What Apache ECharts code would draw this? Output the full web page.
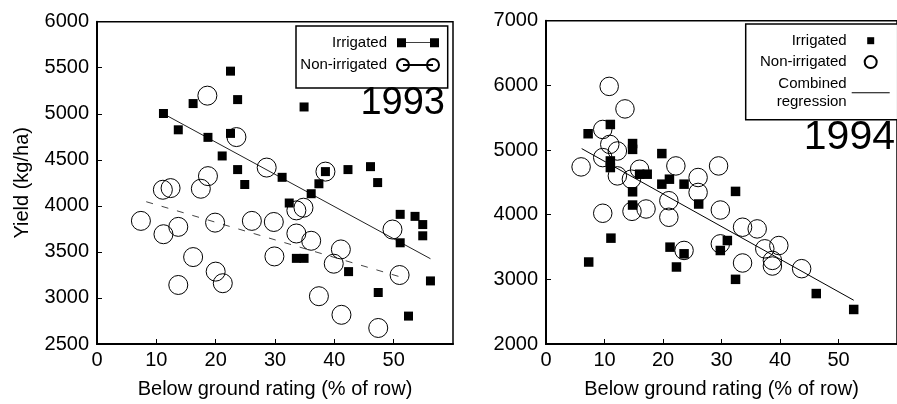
<!DOCTYPE html>
<html>
<head>
<meta charset="utf-8">
<script src="https://cdn.jsdelivr.net/npm/echarts@6/dist/echarts.min.js"></script>
<style>
html,body{margin:0;padding:0;background:#fff;}
#chart{width:897px;height:404px;}
</style>
</head>
<body>
<div id="chart"></div>
<script>
// ---- data ----
const xTicks = [0, 10, 20, 30, 40, 50, 60];
const yTicks93 = [2500, 3000, 3500, 4000, 4500, 5000, 5500, 6000];
const yTicks94 = [2000, 3000, 4000, 5000, 6000, 7000];

const irrigated93 = [[11.2,5003],[13.7,4826],[16.2,5111],[18.7,4744],[21.1,4542],[22.5,5463],[22.5,4787],[23.7,5154],[23.7,4394],[24.9,4232],[31.2,4310],[32.4,4031],[33.6,3430],[34.9,3430],[34.9,5074],[36.1,4132],[37.4,4240],[38.5,4372],[42.3,4394],[42.4,3286],[46.1,4426],[47.3,4253],[47.4,3059],[51.1,3908],[51.1,3599],[53.6,3886],[54.9,3797],[54.9,3675],[52.5,2803],[56.2,3185]];
const nonIrrigated93 = [[7.4,3837],[11.1,4175],[12.4,4193],[11.2,3692],[13.7,3772],[13.7,3141],[16.2,3444],[17.5,4186],[18.7,4323],[18.6,5197],[19.9,3818],[20.0,3286],[21.2,3160],[23.5,4747],[26.1,3837],[28.6,4416],[29.8,3825],[29.9,3451],[33.6,3951],[34.8,3980],[33.6,3700],[36.1,3621],[37.4,3019],[38.5,4372],[39.9,3372],[41.1,3527],[41.2,2817],[47.4,2674],[49.8,3743],[51.0,3249]];
const irrigatedFit93 = [[11.2,5000],[56.2,3426]];
const nonIrrigatedFit93 = [[8.3,4045],[51.1,3229]];

const irrigated94 = [[7.2,5252],[7.3,3268],[11.0,5395],[11.0,4831],[11.0,4729],[11.1,3637],[14.8,5100],[14.8,5010],[14.8,4354],[14.8,4149],[16.0,4626],[17.3,4626],[19.8,4945],[19.8,4472],[21.1,4549],[21.2,3498],[22.3,3191],[23.6,4472],[23.6,3395],[26.1,4165],[29.8,3446],[31.0,3600],[32.4,4360],[32.4,3000],[46.2,2780],[52.6,2534]];
const nonIrrigated94 = [[6.0,4739],[9.7,5318],[9.7,4883],[9.7,4022],[10.8,5984],[10.9,5087],[12.2,4985],[12.2,4600],[13.5,5636],[14.6,4549],[14.7,4052],[16.0,4703],[17.1,4088],[21.0,4216],[21.0,3960],[22.2,4754],[23.6,3447],[26.0,4575],[26.0,4344],[29.5,4754],[29.8,4072],[29.8,3549],[33.6,3806],[33.6,3253],[36.1,3780],[37.4,3472],[39.8,3523],[38.7,3293],[38.7,3206],[43.7,3165]];
const combinedFit94 = [[6.1,5022],[52.6,2677]];

// ---- chart ----
const FONT = '"Liberation Sans", Arial, Helvetica, sans-serif';
const chart = echarts.init(document.getElementById('chart'), null, {renderer: 'canvas'});
const plain = function (v) { return String(v); };

function xAxisCfg(grid) {
  return {
    gridIndex: grid, type: 'value',
    min: xTicks[0], max: xTicks[xTicks.length - 1], interval: xTicks[1] - xTicks[0],
    name: 'Below ground rating (% of row)', nameLocation: 'middle', nameGap: 35,
    nameTextStyle: {color: '#000', fontSize: 20, fontFamily: FONT},
    axisLine: {show: true, lineStyle: {color: '#000', width: 2}},
    axisTick: {show: true, inside: true, length: 5, lineStyle: {color: '#000', width: 1}},
    axisLabel: {color: '#000', fontSize: 20, fontFamily: FONT, margin: 6, showMaxLabel: false, formatter: plain},
    splitLine: {show: false}
  };
}
function yAxisCfg(grid, ticks, name) {
  return {
    gridIndex: grid, type: 'value',
    min: ticks[0], max: ticks[ticks.length - 1], interval: ticks[1] - ticks[0],
    name: name, nameLocation: 'middle', nameGap: 65,
    nameTextStyle: {color: '#000', fontSize: 20, fontFamily: FONT},
    axisLine: {show: true, lineStyle: {color: '#000', width: 2}},
    axisTick: {show: true, inside: true, length: 5, lineStyle: {color: '#000', width: 1}},
    axisLabel: {color: '#000', fontSize: 20, fontFamily: FONT, margin: 8, formatter: plain},
    splitLine: {show: false}
  };
}

const squareStyle = {color: '#000', opacity: 1};
const circleStyle = {color: 'rgba(0,0,0,0)', borderColor: '#000', borderWidth: 1, opacity: 1};

const iconIrr93 = 'path://M0 0L0 0M47 12L47 12M5 1.5h9v9h-9zM38 1.5h9v9h-9zM14 5.6h24v0.8h-24z';
const iconNon93 = 'path://M0 0L0 0M47 12L47 12M5 6a6 6 0 1 0 12 0a6 6 0 1 0 -12 0zM35 6a6 6 0 1 0 12 0a6 6 0 1 0 -12 0zM11 6L41 6';
const iconIrr94 = 'path://M0 0L0 0M38 12L38 12M15.5 2.5h7v7h-7z';
const iconNon94 = 'path://M0 0L0 0M38 12L38 12M13 6a6 6 0 1 0 12 0a6 6 0 1 0 -12 0z';
const iconFit94 = 'path://M0 0L0 0M38 12L38 12M0 5.5h38v1h-38z';

const legendText = {color: '#000', fontSize: 15, fontFamily: FONT, width: 90, lineHeight: 18.4};

const option = {
  animation: false,
  backgroundColor: '#fff',
  grid: [
    {left: 97, top: 21.7, width: 356, height: 324.3, show: true, borderColor: '#000', borderWidth: 1.5, backgroundColor: 'transparent'},
    {left: 546, top: 20.7, width: 357.6, height: 325, show: true, borderColor: '#000', borderWidth: 1.5, backgroundColor: 'transparent'}
  ],
  xAxis: [xAxisCfg(0), xAxisCfg(1)],
  yAxis: [yAxisCfg(0, yTicks93, 'Yield (kg/ha)'), yAxisCfg(1, yTicks94, '')],
  legend: [
    {
      orient: 'vertical', align: 'right', left: 296, top: 26,
      padding: [7.5, 7.7, 13.8, 1], itemGap: 3.9,
      itemWidth: 47, itemHeight: 12,
      borderColor: '#000', borderWidth: 1.5, backgroundColor: '#fff',
      selectedMode: false, textStyle: legendText,
      data: [{name: 'Irrigated', icon: iconIrr93}, {name: 'Non-irrigated', icon: iconNon93}]
    },
    {
      orient: 'vertical', align: 'right', left: 745.7, top: 24,
      padding: [7.5, 7, 8.7, 11], itemGap: 3,
      itemWidth: 38, itemHeight: 12,
      borderColor: '#000', borderWidth: 1.5, backgroundColor: '#fff',
      selectedMode: false, textStyle: legendText,
      formatter: function (n) { return n === 'Combined regression' ? 'Combined\nregression' : n; },
      data: [{name: 'Irrigated', icon: iconIrr94}, {name: 'Non-irrigated', icon: iconNon94}, {name: 'Combined regression', icon: iconFit94}]
    }
  ],
  graphic: [
    {type: 'text', x: 445, y: 104, z: 100,
     style: {text: '1993', fill: '#000', font: '38px ' + FONT, align: 'right', verticalAlign: 'middle'}},
    {type: 'text', x: 895, y: 138, z: 100,
     style: {text: '1994', fill: '#000', font: '41px ' + FONT, align: 'right', verticalAlign: 'middle'}}
  ],
  series: [
    {name: 'Irrigated fit 1993', type: 'line', xAxisIndex: 0, yAxisIndex: 0, data: irrigatedFit93,
     symbol: 'none', silent: true, lineStyle: {color: '#222', width: 1}, z: 1},
    {name: 'Non-irrigated fit 1993', type: 'line', xAxisIndex: 0, yAxisIndex: 0, data: nonIrrigatedFit93,
     symbol: 'none', silent: true, lineStyle: {color: '#444', width: 1, type: [7, 9]}, z: 1},
    {name: 'Irrigated', type: 'scatter', xAxisIndex: 0, yAxisIndex: 0, data: irrigated93,
     symbol: 'rect', symbolSize: 9, itemStyle: squareStyle, silent: true, z: 2},
    {name: 'Non-irrigated', type: 'scatter', xAxisIndex: 0, yAxisIndex: 0, data: nonIrrigated93,
     symbol: 'circle', symbolSize: 19, itemStyle: circleStyle, silent: true, z: 3},
    {name: 'Combined regression', type: 'line', xAxisIndex: 1, yAxisIndex: 1, data: combinedFit94,
     symbol: 'none', silent: true, lineStyle: {color: '#000', width: 1}, itemStyle: {color: '#000'}, z: 1},
    {name: 'Irrigated', type: 'scatter', xAxisIndex: 1, yAxisIndex: 1, data: irrigated94,
     symbol: 'rect', symbolSize: 9.5, itemStyle: squareStyle, silent: true, z: 2},
    {name: 'Non-irrigated', type: 'scatter', xAxisIndex: 1, yAxisIndex: 1, data: nonIrrigated94,
     symbol: 'circle', symbolSize: 18.5, itemStyle: circleStyle, silent: true, z: 3}
  ]
};
chart.setOption(option);
</script>
</body>
</html>
